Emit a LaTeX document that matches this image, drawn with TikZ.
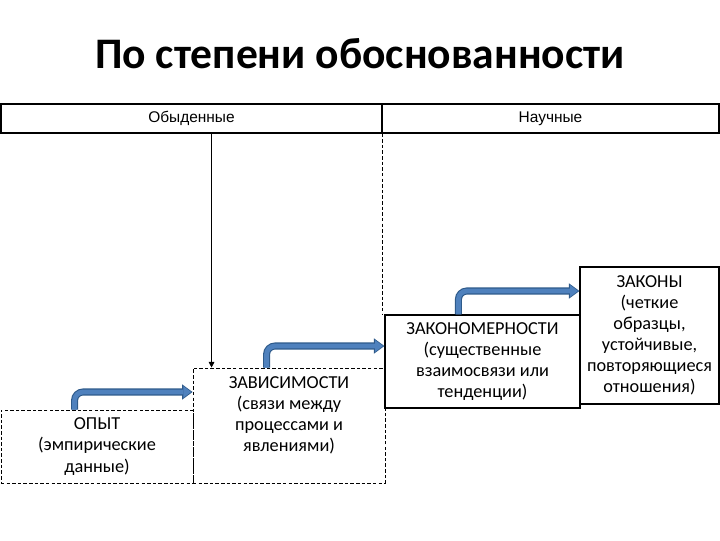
\documentclass[tikz,border=0pt]{standalone}
\usepackage{fontspec}
\setmainfont{Carlito}
\newfontfamily\headfont{Liberation Sans}
\usepackage{xcolor}
\usepackage{tikz}
\usetikzlibrary{arrows.meta,positioning,calc}

\definecolor{flowblue}{HTML}{4F81BD}
\definecolor{flowdark}{HTML}{2E5A8A}

\begin{document}
\begin{tikzpicture}[
  x=0.025cm, y=-0.025cm,
  head/.style={draw, line width=0.8pt, minimum height=0.725cm, inner sep=0pt,
               font=\headfont\fontsize{11}{13}\selectfont},
  stage/.style={draw, line width=0.8pt, align=center, inner sep=0pt,
                font=\fontsize{13}{15}\selectfont},
  dstage/.style={stage, dash pattern=on 2.5pt off 1.5pt, line width=0.6pt},
  txt/.style={align=center, inner sep=0pt, font=\fontsize{13}{15}\selectfont},
  flow/.style={rounded corners=6pt, line width=3.4pt, draw=flowblue,
               -{Triangle[length=5.6pt,width=8.4pt,line width=0pt]}, shorten >=1pt,
               preaction={draw=flowdark, line width=5pt,
                          -{Triangle[length=7.5pt,width=11pt,line width=0pt]}, shorten >=0pt}},
  drop/.style={-{Triangle[length=4pt,width=4pt]}, line width=0.6pt},
  sep/.style={dash pattern=on 2.5pt off 1.5pt, line width=0.6pt}
]
\useasboundingbox (0,0) rectangle (720,540);

% Title
\node[font=\bfseries\fontsize{31}{36}\selectfont] (title) at (360,54) {По степени обоснованности};

% Header row
\node[head, minimum width=9.525cm] (obyd) at (191.5,118.5) {Обыденные};
\node[head, minimum width=8.425cm] (nauch) at (550.5,118.5) {Научные};

% Steps
\node[dstage, minimum width=4.8cm, minimum height=1.825cm] (opyt) at (97,446.5)
  {ОПЫТ\\(эмпирические\\данные)};
\node[dstage, minimum width=4.8cm, minimum height=2.875cm] (zav) at (289,425.5) {};
\node[txt] (zavtext) at (289,415) {ЗАВИСИМОСТИ\\(связи между\\процессами и\\явлениями)};
\node[stage, minimum width=4.875cm, minimum height=2.325cm] (zakm) at (482.5,361.5)
  {ЗАКОНОМЕРНОСТИ\\(существенные\\взаимосвязи или\\тенденции)};
\node[stage, minimum width=3.475cm, minimum height=3.425cm] (zak) at (649.5,335.5)
  {ЗАКОНЫ\\(четкие\\образцы,\\устойчивые,\\повторяющиеся\\отношения)};

% Links from header
\coordinate (zt) at ($(zav.north west)+(19,0)$);
\draw[drop] (obyd.south -| zt) -- (zt);
\draw[sep] (obyd.south east) -- (obyd.south east |- zakm.north);

% Step arrows
\draw[flow] ($(opyt.north west)+(74,0)$) |- ($(zav.west)+(0,-33.5)$);
\draw[flow] ($(zav.north west)+(74,0)$) |- ($(zakm.west)+(0,-15.5)$);
\draw[flow] ($(zakm.north west)+(74,0)$) |- ($(zak.west)+(0,-44.5)$);
\end{tikzpicture}
\end{document}
